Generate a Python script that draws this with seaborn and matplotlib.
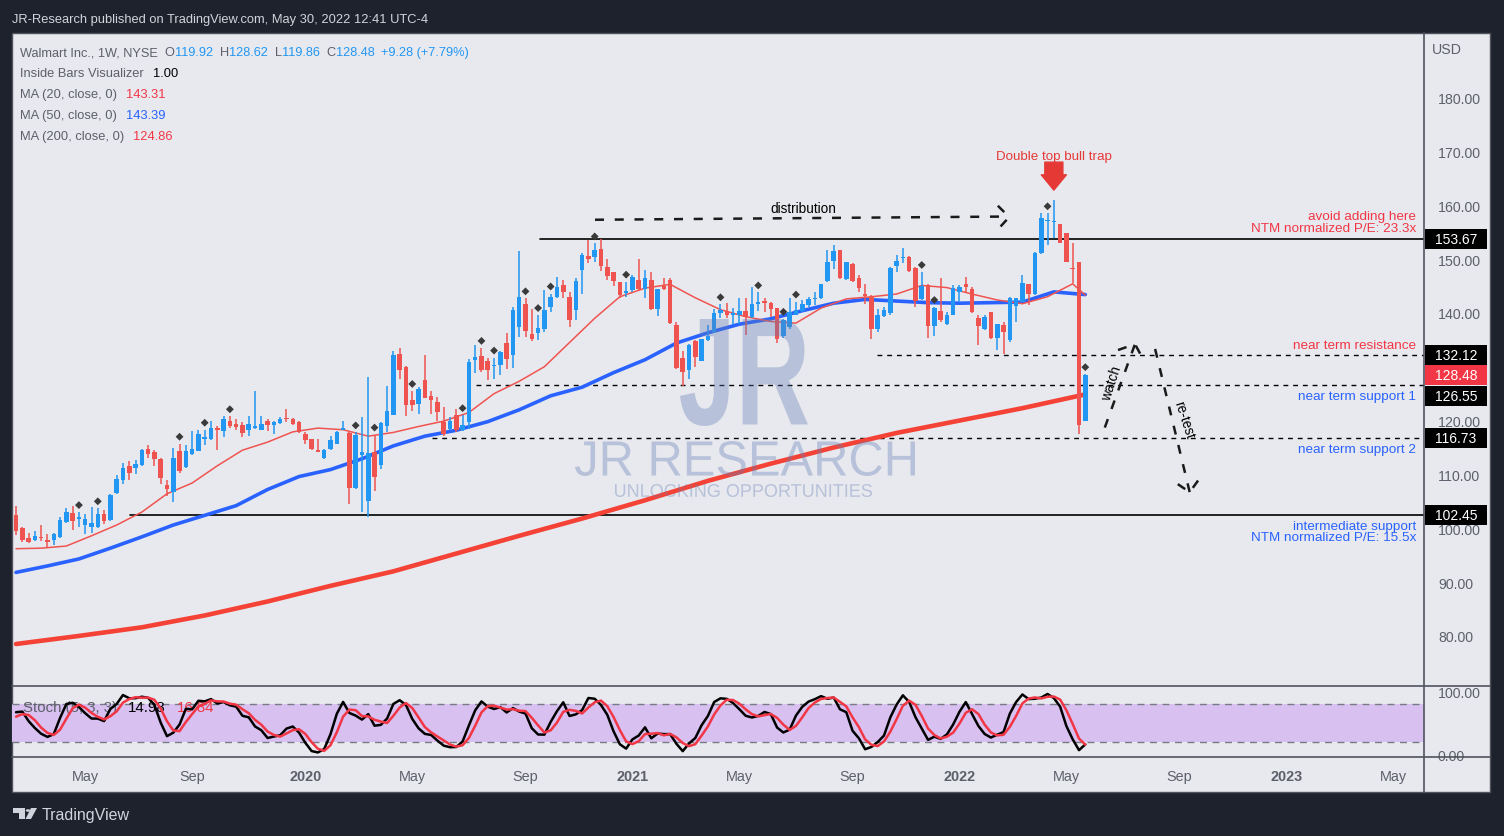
import numpy as np
import pandas as pd
import matplotlib
matplotlib.use("Agg")
import matplotlib.pyplot as plt
import seaborn as sns
from matplotlib.patches import Rectangle, Polygon, Circle, PathPatch
from matplotlib.lines import Line2D
from matplotlib.textpath import TextPath
from matplotlib.font_manager import FontProperties
from matplotlib.transforms import blended_transform_factory, Affine2D, IdentityTransform

# Walmart weekly candles, week of 2019-02-18 up to week of 2022-05-23
start_week = "2019-02-18"
opens = [102.4, 100.1, 98.2, 97.9, 98.4, 97.9, 97.9, 98.4, 101.2, 102.8,
         101.7, 100.6, 100.3, 100.3, 102.6, 101.6, 106.5, 109.0, 111.5, 111.2,
         111.8, 114.7, 114.2, 112.9, 108.1, 106.7, 114.3, 111.4, 113.7, 114.4,
         116.5, 116.5, 118.7, 118.0, 119.9, 119.4, 119.1, 118.3, 118.6, 118.3,
         119.9, 119.1, 119.5, 120.5, 120.3, 119.7, 117.5, 116.5, 114.6, 113.0,
         114.7, 115.7, 118.3, 117.7, 107.5, 113.6, 105.1, 114.1, 111.8, 118.9,
         121.1, 132.4, 130.0, 123.9, 123.0, 127.6, 124.5, 123.4, 119.7, 118.5,
         121.1, 118.3, 119.7, 131.2, 132.0, 131.0, 130.1, 130.3, 134.5, 132.1,
         137.3, 141.6, 136.1, 136.3, 137.1, 141.1, 142.9, 145.2, 143.0, 140.5,
         147.9, 150.6, 150.3, 151.9, 148.5, 147.6, 145.7, 143.7, 144.2, 146.1,
         144.5, 146.1, 140.8, 145.0, 146.1, 137.8, 131.6, 129.3, 134.8, 131.0,
         134.9, 136.5, 139.9, 140.3, 139.6, 139.6, 140.3, 139.2, 141.6, 142.2,
         141.9, 140.9, 135.7, 137.4, 139.7, 140.3, 141.4, 142.5, 142.8, 145.9,
         149.6, 151.7, 146.3, 149.0, 146.5, 143.6, 143.0, 137.0, 139.4, 139.9,
         148.7, 150.2, 150.4, 148.3, 142.6, 145.2, 137.6, 140.3, 138.0, 139.6,
         143.9, 145.4, 144.5, 139.1, 137.0, 140.1, 135.4, 137.7, 134.9, 141.3,
         142.1, 145.4, 143.5, 151.1, 157.0, 156.8, 156.5, 154.9, 148.4, 149.4,
         119.92]
highs = [104.2, 100.3, 99.2, 99.5, 100.6, 98.9, 99.2, 102.0, 103.8, 104.1,
         103.0, 102.6, 103.9, 103.7, 103.4, 106.4, 109.8, 112.2, 112.4, 112.6,
         114.7, 115.5, 114.6, 113.1, 108.9, 114.9, 115.7, 115.5, 118.1, 118.3,
         118.3, 119.9, 118.9, 120.9, 120.8, 120.2, 119.7, 120.9, 125.4, 120.8,
         120.2, 119.9, 120.6, 122.2, 120.5, 119.9, 117.8, 116.6, 116.6, 114.8,
         117.2, 118.0, 119.9, 117.9, 117.8, 120.6, 128.1, 117.4, 119.7, 126.4,
         132.9, 133.4, 130.2, 125.5, 126.2, 132.1, 125.5, 124.4, 122.5, 120.6,
         122.2, 121.0, 131.5, 134.1, 133.5, 131.6, 131.7, 132.9, 136.3, 141.1,
         151.5, 142.7, 140.8, 139.6, 144.3, 143.6, 146.6, 146.1, 143.9, 146.4,
         151.1, 153.5, 152.9, 153.7, 150.1, 147.6, 145.7, 145.8, 147.0, 150.0,
         147.9, 147.6, 144.5, 146.4, 146.4, 138.3, 133.0, 134.3, 134.9, 135.2,
         137.7, 140.8, 141.6, 141.8, 141.0, 142.7, 142.7, 144.8, 143.8, 142.7,
         142.1, 140.9, 138.9, 142.8, 142.1, 142.4, 143.0, 143.9, 145.3, 151.7,
         152.7, 151.7, 149.4, 149.2, 147.0, 145.3, 143.4, 140.8, 141.1, 148.6,
         150.7, 152.0, 150.6, 148.5, 147.6, 145.4, 141.1, 146.5, 140.1, 145.2,
         145.2, 146.7, 144.8, 139.6, 139.6, 140.1, 138.0, 138.3, 143.0, 142.7,
         147.0, 145.4, 151.3, 158.5, 158.5, 161.0, 156.5, 154.9, 153.0, 149.4,
         128.62]
lows = [98.7, 97.4, 97.2, 97.7, 97.7, 96.5, 96.9, 98.2, 101.0, 99.6,
        100.3, 99.0, 99.1, 100.1, 100.8, 101.4, 106.3, 108.2, 109.0, 110.1,
        111.6, 113.0, 111.6, 108.2, 106.0, 104.9, 110.2, 111.1, 113.6, 114.3,
        115.4, 116.3, 114.6, 116.9, 118.6, 118.3, 116.9, 117.2, 118.4, 118.2,
        118.0, 117.5, 119.3, 119.7, 119.1, 117.6, 115.7, 114.6, 114.2, 112.8,
        114.6, 115.6, 118.2, 104.5, 107.3, 103.1, 102.1, 107.0, 111.0, 117.8,
        121.1, 127.8, 120.9, 121.7, 121.2, 124.2, 121.2, 120.0, 117.1, 118.2,
        117.8, 118.0, 118.5, 128.9, 129.0, 127.6, 127.8, 128.4, 129.5, 129.8,
        135.5, 135.5, 134.8, 134.9, 136.4, 140.2, 142.8, 142.7, 137.4, 138.6,
        143.6, 149.2, 149.5, 147.8, 146.1, 145.0, 142.7, 143.0, 143.9, 144.2,
        142.7, 140.5, 139.4, 144.2, 138.0, 129.6, 126.4, 127.7, 129.9, 131.0,
        134.7, 136.3, 139.1, 139.1, 138.0, 138.0, 135.9, 139.0, 140.3, 140.2,
        139.3, 134.5, 135.4, 137.1, 139.6, 140.2, 141.1, 141.4, 142.6, 145.8,
        148.1, 146.3, 146.1, 145.8, 143.9, 141.7, 135.2, 136.5, 139.3, 139.6,
        147.6, 149.2, 147.6, 141.1, 142.4, 135.4, 135.8, 138.4, 137.7, 139.6,
        142.1, 143.9, 140.0, 134.0, 136.8, 135.2, 133.1, 132.3, 134.6, 138.3,
        142.1, 141.4, 143.3, 151.0, 152.6, 153.9, 152.9, 149.4, 145.5, 117.5,
        119.86]
closes = [99.5, 97.9, 97.5, 98.5, 98.2, 97.5, 98.9, 101.5, 103.1, 101.4,
          102.0, 101.8, 101.0, 102.6, 101.4, 106.2, 109.1, 111.2, 110.3, 111.9,
          114.6, 113.8, 112.9, 109.3, 107.2, 113.0, 110.7, 114.3, 114.7, 117.5,
          117.0, 118.6, 118.2, 120.3, 119.0, 118.8, 117.6, 119.4, 118.9, 119.4,
          119.1, 119.7, 120.3, 120.2, 119.4, 117.8, 116.3, 114.7, 114.2, 114.6,
          116.4, 117.8, 118.6, 107.5, 117.4, 114.1, 113.9, 109.6, 119.5, 121.8,
          132.2, 129.3, 122.8, 122.8, 125.9, 124.2, 123.9, 121.6, 117.5, 120.0,
          118.3, 119.2, 130.8, 131.8, 129.4, 129.3, 130.2, 132.8, 131.5, 140.5,
          142.9, 136.6, 135.2, 137.2, 140.6, 143.0, 144.8, 143.9, 138.6, 145.9,
          150.7, 150.1, 151.7, 148.8, 146.9, 145.9, 143.4, 144.0, 146.7, 144.5,
          146.4, 140.7, 144.4, 144.5, 138.2, 129.8, 129.1, 134.1, 131.8, 135.2,
          135.7, 139.9, 140.6, 139.6, 139.9, 140.3, 139.2, 141.7, 142.1, 141.9,
          140.8, 135.1, 138.6, 140.2, 140.5, 141.6, 142.5, 142.8, 145.3, 149.5,
          151.5, 146.4, 149.4, 145.9, 144.7, 143.2, 137.0, 139.7, 140.6, 148.4,
          149.6, 150.4, 147.8, 142.2, 145.0, 137.6, 140.9, 138.7, 139.6, 144.7,
          144.9, 144.9, 140.2, 137.6, 139.3, 135.4, 138.0, 136.5, 142.8, 142.7,
          145.5, 143.5, 151.1, 157.6, 157.3, 157.0, 153.0, 149.5, 148.1, 119.1,
          128.48]

# candles flagged by the "Inside Bars Visualizer" (1 = first candle)
inside_bars = [11, 14, 27, 31, 35, 55, 58, 64, 72, 75, 77, 82, 84, 86, 93, 98,
               113, 119, 123, 125, 145, 147, 165, 171]

# moving averages
ma20_vals = [96.2, 96.3, 96.7, 98.6, 100.6, 103.0, 106.4, 108.4, 111.6, 114.5,
             116.0, 117.9, 118.6, 118.3, 117.1, 117.8, 118.9, 119.9, 121.5, 125.0,
             127.3, 130.0, 134.5, 139.0, 143.0, 144.6, 145.3, 142.8, 140.6, 139.3,
             138.4, 138.1, 140.9, 142.6, 143.0, 143.5, 145.1, 144.7, 143.5, 142.4,
             141.7, 143.0, 145.4, 143.3]
ma20_weeks = list(range(0, 169, 4)) + [170]
ma50_vals = [91.8, 93.0, 94.3, 96.3, 98.4, 100.6, 102.4, 104.2, 107.2, 109.6,
             110.9, 112.9, 115.3, 117.1, 118.2, 119.8, 122.0, 124.6, 126.2, 128.9,
             131.3, 134.4, 136.3, 137.9, 138.9, 140.4, 141.8, 142.5, 142.2, 141.9,
             141.8, 141.9, 142.0, 143.9, 143.4]
ma50_weeks = list(range(0, 171, 5))
ma200_vals = [78.5, 80.0, 81.6, 83.8, 86.4, 89.3, 92.0, 95.3, 98.6, 101.8,
              105.2, 108.8, 112.0, 115.0, 117.7, 120.0, 122.3, 124.86]
ma200_weeks = list(range(0, 171, 10))

# stochastic values at the very start (history before the first candle is not shown)
k_head = [67, 68, 53, 42, 33, 28]
d_head = [60, 64]

# horizontal levels drawn by the author
level_prices = [153.67, 132.12, 126.55, 116.73, 102.45]

# price scale ticks (130.00 sits behind the level labels on the chart)
price_ticks = [80, 90, 100, 110, 120, 140, 150, 160, 170, 180]

tick_months = ["2019-05", "2019-09", "2020-01", "2020-05", "2020-09", "2021-01",
               "2021-05", "2021-09", "2022-01", "2022-05", "2022-09", "2023-01",
               "2023-05"]
tick_labels = ["May", "Sep", "2020", "May", "Sep", "2021", "May", "Sep",
               "2022", "May", "Sep", "2023", "May"]

# colours
BG = "#1e222d"
PANEL = "#e8e9ee"
UP = "#2196f3"
DOWN = "#ef5350"
GRAY = "#5d606b"
RED_TXT = "#f23645"
BLUE_TXT = "#2962ff"

sns.set_style("white")
plt.rcParams["font.family"] = ["Liberation Sans", "DejaVu Sans"]

W, H = 1504, 837
def fx(px):
    return px / W
def fy(py):
    return 1 - py / H

fig = plt.figure(figsize=(W / 100, H / 100), dpi=100, facecolor=BG)
fig.patches.append(Rectangle((fx(12), fy(793)), fx(1490) - fx(12), fy(34) - fy(793),
                             transform=fig.transFigure, fc=PANEL, ec="#50535e",
                             lw=1, zorder=-10))

ax = fig.add_axes([fx(12), fy(687), fx(1424) - fx(12), fy(35) - fy(687)])
st = fig.add_axes([fx(12), fy(758), fx(1424) - fx(12), fy(687) - fy(758)], sharex=ax)
for a in (ax, st):
    a.set_facecolor("none")
    for s in a.spines.values():
        s.set_visible(False)

o = np.array(opens)
h = np.array(highs)
l = np.array(lows)
c = np.array(closes)
x = np.arange(len(c))
col = np.where(c >= o, UP, DOWN)
body = c - o
body = np.where(np.abs(body) < 0.25, 0.25 * np.where(body >= 0, 1, -1), body)

ax.vlines(x, l, h, colors=col, lw=1.1, zorder=4)
ax.bar(x, body, bottom=o, width=0.72, color=col, linewidth=0, zorder=5)

ib = np.array(inside_bars) - 1
sns.scatterplot(x=x[ib], y=h[ib] + 1.3, marker="D", s=16, color="#3a3a3a",
                edgecolor="none", ax=ax, zorder=6, legend=False)

sns.lineplot(x=ma200_weeks, y=ma200_vals, ax=ax, color="#f44336", lw=3.3,
             estimator=None, sort=False, zorder=3)
sns.lineplot(x=ma50_weeks, y=ma50_vals, ax=ax, color="#2962ff", lw=2.6,
             estimator=None, sort=False, zorder=3)
sns.lineplot(x=ma20_weeks, y=ma20_vals, ax=ax, color="#f05450", lw=1.1,
             estimator=None, sort=False, zorder=3)

x_left, x_right = -0.64, 223.85
ax.set_xlim(x_left, x_right)
ax.set_ylim(70.7, 191.8)

# levels
lv_start = [83.3, 136.9, 73.1, 66.1, 18.1]
lv_dash = [False, True, True, True, False]
for p, x0, dsh in zip(level_prices, lv_start, lv_dash):
    ax.plot([x0, x_right], [p, p], color="black", lw=1.0 if dsh else 1.2,
            ls=(0, (3.5, 3.5)) if dsh else "-", zorder=2)

btr = blended_transform_factory(ax.transAxes, ax.transData)

# level texts on the right
txt_kw = dict(ha="right", va="center", fontsize=9.7, transform=btr)
xr = (1416 - 12) / 1412
ax.text(xr, 158.0, "avoid adding here", color=RED_TXT, **txt_kw)
ax.text(xr, 155.7, "NTM normalized P/E: 23.3x", color=RED_TXT, **txt_kw)
ax.text(xr, 134.0, "near term resistance", color=RED_TXT, **txt_kw)
ax.text(xr, 124.6, "near term support 1", color=BLUE_TXT, **txt_kw)
ax.text(xr, 114.8, "near term support 2", color=BLUE_TXT, **txt_kw)
ax.text(xr, 100.5, "intermediate support", color=BLUE_TXT, **txt_kw)
ax.text(xr, 98.4, "NTM normalized P/E: 15.5x", color=BLUE_TXT, **txt_kw)

# price labels on the axis (126.55 label is pushed down, as on the chart)
box_x0 = (1425 - 12) / 1412
box_w = 62 / 1412
box_h = 20 / 5.384
for p, yc, fc in [(153.67, 153.67, "black"), (132.12, 132.12, "black"),
                  (128.48, 128.48, "#f23645"), (126.55, 124.56, "black"),
                  (116.73, 116.73, "black"), (102.45, 102.45, "black")]:
    ax.add_patch(Rectangle((box_x0, yc - box_h / 2), box_w, box_h, transform=btr,
                           fc=fc, ec="none", clip_on=False, zorder=20))
    ax.text(box_x0 + box_w / 2, yc, f"{p:.2f}", transform=btr, ha="center", va="center",
            color="white", fontsize=10.0, zorder=21, clip_on=False)

ax.yaxis.tick_right()
ax.set_yticks(price_ticks)
ax.set_yticklabels([f"{v:.2f}" for v in price_ticks])
ax.tick_params(axis="y", length=0, pad=10, labelsize=10.2, labelcolor=GRAY)
ax.tick_params(axis="x", bottom=False, labelbottom=False)

# annotations
ax.annotate("", xy=(165.0, 162.8), xytext=(165.0, 168.0),
            arrowprops=dict(arrowstyle="simple,head_length=1.1,head_width=1.8,tail_width=1.3",
                            color="#e53935", shrinkA=0, shrinkB=0, mutation_scale=10), zorder=7)
ax.text(165.0, 169.1, "Double top bull trap", color="#e53935", ha="center", va="center", fontsize=9.6)
ax.text(125.1, 159.5, "distribution", color="black", ha="center", va="center", fontsize=9.8)
dash = dict(color="#1a1a1a", lw=1.8, ls=(0, (3.6, 4.3)), zorder=7)
ax.plot([92.05, 157.9], [157.3, 157.9], **dash)
ax.plot([156.1, 157.9, 156.1], [159.9, 157.8, 155.5], **dash)
ax.plot([173.1, 177.9], [118.7, 134.2], **dash)
ax.plot([175.2, 177.9, 179.2], [133.1, 134.2, 131.4], **dash)
ax.plot([181.1, 186.6], [133.3, 106.7], **dash)
ax.plot([184.7, 186.6, 188.2], [108.2, 106.7, 109.3], **dash)
ax.text(174.2, 127.1, "watch", rotation=72, ha="center", va="center", fontsize=9.8, color="black")
ax.text(185.6, 120.3, "re-test", rotation=-72, ha="center", va="center", fontsize=9.8, color="black")


# watermark, stretched into the boxes it covers on the chart
def watermark(s, x0, x1, y0, y1, weight="normal"):
    tp = TextPath((0, 0), s, size=100,
                  prop=FontProperties(family=["Liberation Sans", "DejaVu Sans"], weight=weight))
    ext = tp.get_extents()
    tr = (Affine2D().translate(-ext.x0, -ext.y0)
          .scale((x1 - x0) / ext.width, (y1 - y0) / ext.height)
          .translate(x0, H - y1))
    ax.add_artist(PathPatch(tr.transform_path(tp), fc="#627cb5", ec="none", alpha=0.36,
                            transform=IdentityTransform(), zorder=8))


watermark("JR", 680, 808, 320, 427, weight="bold")
watermark("JR RESEARCH", 575, 915, 442, 477)
watermark("UNLOCKING OPPORTUNITIES", 615, 872, 485, 498)

# stochastic (5, 3, 3) from the candles
hh = pd.Series(h).rolling(5, min_periods=1).max()
ll = pd.Series(l).rolling(5, min_periods=1).min()
raw = 100 * (pd.Series(c) - ll) / (hh - ll)
k_line = raw.rolling(3, min_periods=1).mean()
k_line.iloc[:len(k_head)] = k_head
d_line = k_line.rolling(3, min_periods=1).mean()
d_line.iloc[:len(d_head)] = d_head

st.axhspan(20, 80, color="#d8c0f0", lw=0, zorder=0)
for lvl in (80, 20):
    st.axhline(lvl, color="#787b86", lw=1, ls=(0, (5, 4)), zorder=1)
sns.lineplot(x=x, y=k_line.values, ax=st, color="black", lw=1.8, estimator=None, sort=False, zorder=4)
sns.lineplot(x=x, y=d_line.values, ax=st, color="#f23645", lw=1.8, estimator=None, sort=False, zorder=5)
st.set_ylim(-3.7, 108.4)
st.yaxis.tick_right()
st.set_yticks([0, 100])
st.set_yticklabels(["0.00", "100.00"])
st.tick_params(axis="y", length=0, pad=10, labelsize=10.2, labelcolor=GRAY)

start = pd.Timestamp(start_week)
pos = []
for m in tick_months:
    d0 = pd.Timestamp(m + "-01")
    d0 = d0 + pd.Timedelta(days=(7 - d0.weekday()) % 7)
    pos.append((d0 - start).days / 7)
st.set_xticks(pos)
st.set_xticklabels(tick_labels)
st.tick_params(axis="x", length=0, pad=9, labelsize=10.4, labelcolor=GRAY)
for t in st.get_xticklabels():
    if t.get_text().isdigit():
        t.set_fontweight("bold")

# separators
for seg in [((12, 1490), (687, 687)), ((12, 1490), (758, 758)), ((1424, 1424), (34, 793))]:
    fig.add_artist(Line2D([fx(v) for v in seg[0]], [fy(v) for v in seg[1]],
                          transform=fig.transFigure, color="#50535e", lw=1.2))

# header and legends
fig.text(fx(12), fy(20), "JR-Research published on TradingView.com, May 30, 2022 12:41 UTC-4",
         color="#d1d4dc", fontsize=9.3, va="center", ha="left")
fig.text(fx(1447), fy(50), "USD", color=GRAY, fontsize=10.2, ha="center", va="center")


def chain(px, py, parts, size, host, z=10):
    t = host.text(fx(px), fy(py), parts[0][0], color=parts[0][1], fontsize=size,
                  va="center", ha="left", transform=fig.transFigure, zorder=z)
    for s, cl, gap in parts[1:]:
        t = host.annotate(s, xy=(1, 0), xycoords=t, xytext=(gap, 0), textcoords="offset points",
                          va="bottom", ha="left", color=cl, fontsize=size, annotation_clip=False,
                          zorder=z)


BL = "#2196f3"
chain(20, 53, [("Walmart Inc., 1W, NYSE", GRAY), ("O", GRAY, 5), ("119.92", BL, 0),
               ("H", GRAY, 5), ("128.62", BL, 0), ("L", GRAY, 5), ("119.86", BL, 0),
               ("C", GRAY, 5), ("128.48", BL, 0), ("+9.28 (+7.79%)", BL, 5)], 9.2, ax)
chain(20, 74, [("Inside Bars Visualizer", GRAY), ("1.00", "black", 6.5)], 9.3, ax)
chain(20, 95, [("MA (20, close, 0)", GRAY), ("143.31", RED_TXT, 6.5)], 9.3, ax)
chain(20, 116, [("MA (50, close, 0)", GRAY), ("143.39", BLUE_TXT, 6.5)], 9.3, ax)
chain(20, 137, [("MA (200, close, 0)", GRAY), ("124.86", RED_TXT, 6.5)], 9.3, ax)
chain(23, 708, [("Stoch (5, 3, 3)", GRAY), ("14.98", "black", 8), ("16.84", RED_TXT, 8)], 10.8, st, z=2)

# TradingView logo in the footer
lc = "#d1d4dc"
fig.add_artist(Polygon([(fx(13), fy(809)), (fx(25), fy(809)), (fx(25), fy(820)), (fx(19), fy(820)),
                        (fx(19), fy(814)), (fx(13), fy(814))], closed=True, transform=fig.transFigure,
                       fc=lc, ec="none"))
fig.add_artist(Circle((fx(28), fy(811.5)), 2.3 / W, transform=fig.transFigure, fc=lc, ec="none"))
fig.add_artist(Polygon([(fx(31), fy(809)), (fx(37), fy(809)), (fx(31), fy(820)), (fx(25.5), fy(820))],
                       closed=True, transform=fig.transFigure, fc=lc, ec="none"))
fig.text(fx(42), fy(816), "TradingView", color=lc, fontsize=11.5, va="center", ha="left")

fig.savefig("out.png", dpi=100, facecolor=fig.get_facecolor())
